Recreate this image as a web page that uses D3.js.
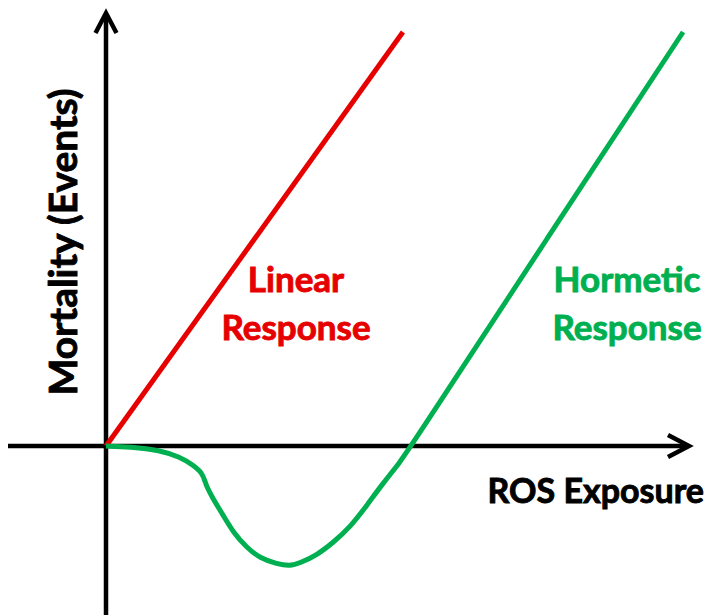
<!DOCTYPE html>
<html lang="en">
<head>
<meta charset="UTF-8">
<title>Linear vs Hormetic Response</title>
<script src="https://d3js.org/d3.v7.min.js"></script>
<style>
    body { margin: 0; background: #fff; }
    .lbl { font-family: Lato, "Open Sans", sans-serif; font-weight: bold; stroke-width: 0.9px; }
</style>
</head>
<body>
<svg width="713" height="615"></svg>
<script>
    // ROS exposure (x) vs mortality (y), arbitrary units
    const linearX = [0, 5.12];
    const linearY = [0, 10];

    const hormeticX = [0, 0.41, 0.93, 1.28, 1.50, 1.66, 1.71, 1.74, 1.84, 2.02, 2.19, 2.43, 2.66,
                       2.95, 3.17, 3.34, 3.64, 3.91, 4.21, 4.50, 4.78, 5.07, 5.26, 7.60, 9.95];
    const hormeticY = [0, -0.02, -0.10, -0.27, -0.46, -0.65, -0.87, -0.99, -1.26, -1.67, -2.08, -2.46, -2.71,
                       -2.85, -2.90, -2.83, -2.63, -2.34, -1.96, -1.43, -0.89, -0.39, 0, 5.0, 10];

    const xTitle = "ROS Exposure";
    const yTitle = "Mortality (Events)";
    const linearLabel = ["Linear", "Response"];
    const hormeticLabel = ["Hormetic", "Response"];

    const RED = "#e60000", GREEN = "#00b050";

    const svg = d3.select("svg");

    const x = d3.scaleLinear().domain([0, 10]).range([106, 686]);
    const y = d3.scaleLinear().domain([0, 10]).range([446, 32]);

    // axes with open arrow heads
    const axisG = svg.append("g")
        .attr("stroke", "black")
        .attr("stroke-width", 4.5)
        .attr("fill", "none");

    const x0 = x(0), y0 = y(0);
    axisG.append("line").attr("x1", 8).attr("x2", 687).attr("y1", y0).attr("y2", y0);
    axisG.append("path")
        .attr("stroke-linejoin", "miter")
        .attr("d", `M668,${y0 - 11}L689,${y0}L668,${y0 + 11}`);

    axisG.append("line").attr("x1", x0).attr("x2", x0).attr("y1", 615).attr("y2", 15);
    axisG.append("path")
        .attr("stroke-linejoin", "miter")
        .attr("d", `M${x0 - 10.5},33L${x0},13L${x0 + 10.5},33`);

    // curves
    const line = d3.line()
        .x(d => x(d[0]))
        .y(d => y(d[1]))
        .curve(d3.curveBasis);

    svg.append("path")
        .datum(d3.zip(linearX, linearY))
        .attr("d", d3.line().x(d => x(d[0])).y(d => y(d[1])))
        .attr("fill", "none")
        .attr("stroke", RED)
        .attr("stroke-width", 5);

    svg.append("path")
        .datum(d3.zip(hormeticX, hormeticY))
        .attr("d", line)
        .attr("fill", "none")
        .attr("stroke", GREEN)
        .attr("stroke-width", 5)
        .attr("stroke-linejoin", "round");

    // labels
    function twoLine(lines, cx, color) {
        svg.append("text")
            .attr("class", "lbl")
            .attr("text-anchor", "middle")
            .attr("fill", color)
            .attr("stroke", color)
            .style("font-size", "35px")
            .selectAll("tspan")
            .data(lines)
            .join("tspan")
            .attr("x", cx)
            .attr("y", (d, i) => 292 + i * 48)
            .text(d => d);
    }
    twoLine(linearLabel, 296, RED);
    twoLine(hormeticLabel, 627, GREEN);

    svg.append("text")
        .attr("class", "lbl")
        .attr("text-anchor", "end")
        .attr("stroke", "black")
        .attr("x", 704)
        .attr("y", 503)
        .style("font-size", "34px")
        .text(xTitle);

    svg.append("text")
        .attr("class", "lbl")
        .attr("text-anchor", "middle")
        .attr("stroke", "black")
        .attr("transform", "translate(77,242) rotate(-90)")
        .style("font-size", "39px")
        .text(yTitle);
</script>
</body>
</html>
